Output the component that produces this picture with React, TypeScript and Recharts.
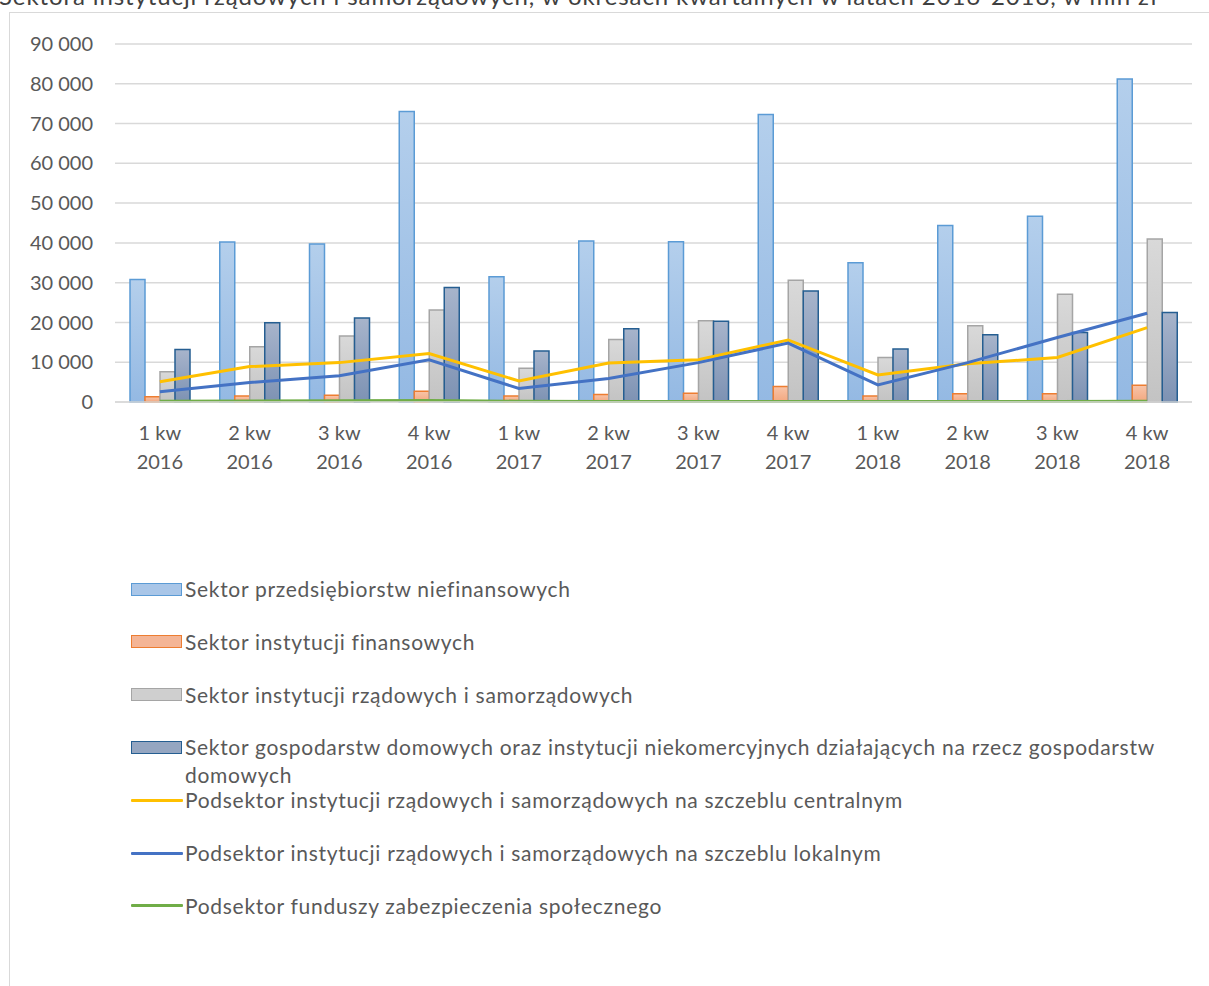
import React from 'react'
import { ComposedChart, Bar, Line, XAxis, YAxis, CartesianGrid } from 'recharts'

const quarters = ['1 kw', '2 kw', '3 kw', '4 kw', '1 kw', '2 kw', '3 kw', '4 kw', '1 kw', '2 kw', '3 kw', '4 kw']
const years = ['2016', '2016', '2016', '2016', '2017', '2017', '2017', '2017', '2018', '2018', '2018', '2018']

const nonFinancial = [30800, 40200, 39700, 73000, 31500, 40500, 40300, 72300, 35000, 44400, 46700, 81200]
const financial = [1300, 1500, 1700, 2700, 1500, 1900, 2200, 3900, 1500, 2100, 2100, 4200]
const government = [7600, 13900, 16600, 23100, 8500, 15700, 20400, 30600, 11200, 19200, 27100, 41000]
const households = [13200, 19900, 21100, 28800, 12800, 18400, 20300, 27900, 13300, 16900, 17500, 22500]
const central = [5100, 8900, 9900, 12200, 5300, 9800, 10600, 15600, 6800, 9600, 11200, 18700]
const local = [2600, 4900, 6600, 10600, 3400, 5900, 9900, 14800, 4300, 9900, 16200, 22300]
const socialFunds = [200, 250, 300, 400, 200, 150, 100, 100, 100, 100, 100, 200]

const yTicks = [0, 10000, 20000, 30000, 40000, 50000, 60000, 70000, 80000, 90000]

const title = 'Sektora instytucji rządowych i samorządowych, w okresach kwartalnych w latach 2016-2018, w mln zł'

const series = [
    { key: 'nonFinancial', name: 'Sektor przedsiębiorstw niefinansowych', type: 'bar', fill: 'url(#gBlue)', stroke: '#5b9bd5', swatch: '#a9c6e8' },
    { key: 'financial', name: 'Sektor instytucji finansowych', type: 'bar', fill: 'url(#gOrange)', stroke: '#ed7d31', swatch: '#f4b596' },
    { key: 'government', name: 'Sektor instytucji rządowych i samorządowych', type: 'bar', fill: 'url(#gGray)', stroke: '#a5a5a5', swatch: '#cfcfcf' },
    { key: 'households', name: 'Sektor gospodarstw domowych oraz instytucji niekomercyjnych działających na rzecz gospodarstw domowych', type: 'bar', fill: 'url(#gDark)', stroke: '#255e91', swatch: '#95a6c1' },
    { key: 'central', name: 'Podsektor instytucji rządowych i samorządowych na szczeblu centralnym', type: 'line', stroke: '#ffc000' },
    { key: 'local', name: 'Podsektor instytucji rządowych i samorządowych na szczeblu lokalnym', type: 'line', stroke: '#4472c4' },
    { key: 'socialFunds', name: 'Podsektor funduszy zabezpieczenia społecznego', type: 'line', stroke: '#70ad47' },
]

const data = quarters.map((q, i) => ({
    quarter: q,
    year: years[i],
    label: `${q} ${years[i]}`,
    nonFinancial: nonFinancial[i],
    financial: financial[i],
    government: government[i],
    households: households[i],
    central: central[i],
    local: local[i],
    socialFunds: socialFunds[i],
}))

const font = 'Lato, "Open Sans", sans-serif'
const textColor = '#595959'

const formatNumber = (v: number) => String(v).replace(/\B(?=(\d{3})+(?!\d))/g, ' ')

// two-line category label: "1 kw" / "2016"
const QuarterTick = ({ x, y, payload, index }: any) => (
    <g transform={`translate(${x},${y})`}>
        <text textAnchor="middle" fill={textColor} fontSize={20} fontFamily={font}>
            <tspan x={0} dy={30}>{quarters[index] ?? payload.value}</tspan>
            <tspan x={0} dy={29}>{years[index]}</tspan>
        </text>
    </g>
)

const ChartLegend = () => (
    <div style={{ position: 'absolute', left: 131, top: 575, width: 1060, fontFamily: font, fontSize: 21, letterSpacing: 0.7, color: textColor }}>
        {series.map((s, i) => (
            <div key={s.key} style={{ position: 'absolute', top: i * 52.8, left: 0, display: 'flex', alignItems: 'flex-start' }}>
                <div style={{ width: 52, height: 28, display: 'flex', alignItems: 'center', flexShrink: 0 }}>
                    {s.type === 'bar' ? (
                        <div style={{ width: 49, height: 11, background: s.swatch, border: `1.5px solid ${s.stroke}` }} />
                    ) : (
                        <div style={{ width: 52, height: 3, background: s.stroke, borderRadius: 1 }} />
                    )}
                </div>
                <div style={{ marginLeft: 2, lineHeight: '28px', width: 1005 }}>{s.name}</div>
            </div>
        ))}
    </div>
)

const App = () => {
    return (
        <div style={{ position: 'absolute', left: 0, top: 0, width: 1209, height: 986, overflow: 'hidden', background: '#fff' }}>
            <div style={{ position: 'absolute', left: -1, top: -16, whiteSpace: 'nowrap', fontFamily: font, fontSize: 24, letterSpacing: 0.9, lineHeight: '24px', color: '#404040' }}>
                {title}
            </div>
            <div style={{ position: 'absolute', left: 9, top: 12, width: 1400, height: 1200, border: '1.5px solid #d9d9d9' }} />
            <div style={{ position: 'absolute', left: 0, top: 0 }}>
                <ComposedChart width={1209} height={480} data={data} margin={{ top: 44, right: 17, bottom: 8, left: 10 }} barGap={0} barSize={15}>
                    <defs>
                        <linearGradient id="gBlue" x1="0" y1="0" x2="0" y2="1">
                            <stop offset="0%" stopColor="#b4cfec" />
                            <stop offset="100%" stopColor="#94b9e3" />
                        </linearGradient>
                        <linearGradient id="gOrange" x1="0" y1="0" x2="0" y2="1">
                            <stop offset="0%" stopColor="#f8c4a8" />
                            <stop offset="100%" stopColor="#f3a77f" />
                        </linearGradient>
                        <linearGradient id="gGray" x1="0" y1="0" x2="0" y2="1">
                            <stop offset="0%" stopColor="#d9d9d9" />
                            <stop offset="100%" stopColor="#c3c3c3" />
                        </linearGradient>
                        <linearGradient id="gDark" x1="0" y1="0" x2="0" y2="1">
                            <stop offset="0%" stopColor="#a7b4cb" />
                            <stop offset="100%" stopColor="#7d92b3" />
                        </linearGradient>
                    </defs>
                    <CartesianGrid vertical={false} stroke="#d9d9d9" strokeWidth={1.5} />
                    <XAxis
                        dataKey="label"
                        height={70}
                        interval={0}
                        tick={<QuarterTick />}
                        tickLine={false}
                        axisLine={{ stroke: '#d9d9d9', strokeWidth: 1.5 }}
                    />
                    <YAxis
                        width={105}
                        domain={[0, 90000]}
                        ticks={yTicks}
                        tickFormatter={formatNumber}
                        axisLine={false}
                        tickLine={false}
                        tickMargin={16}
                        tick={{ fill: textColor, fontSize: 20, fontFamily: font }}
                    />
                    {series.filter(s => s.type === 'bar').map(s => (
                        <Bar key={s.key} dataKey={s.key} name={s.name} fill={s.fill} stroke={s.stroke} strokeWidth={1.5} isAnimationActive={false} />
                    ))}
                    {series.filter(s => s.type === 'line').map(s => (
                        <Line key={s.key} type="linear" dataKey={s.key} name={s.name} stroke={s.stroke} strokeWidth={3} dot={false} activeDot={false} isAnimationActive={false} />
                    ))}
                </ComposedChart>
            </div>
            <ChartLegend />
        </div>
    )
}

export default App
